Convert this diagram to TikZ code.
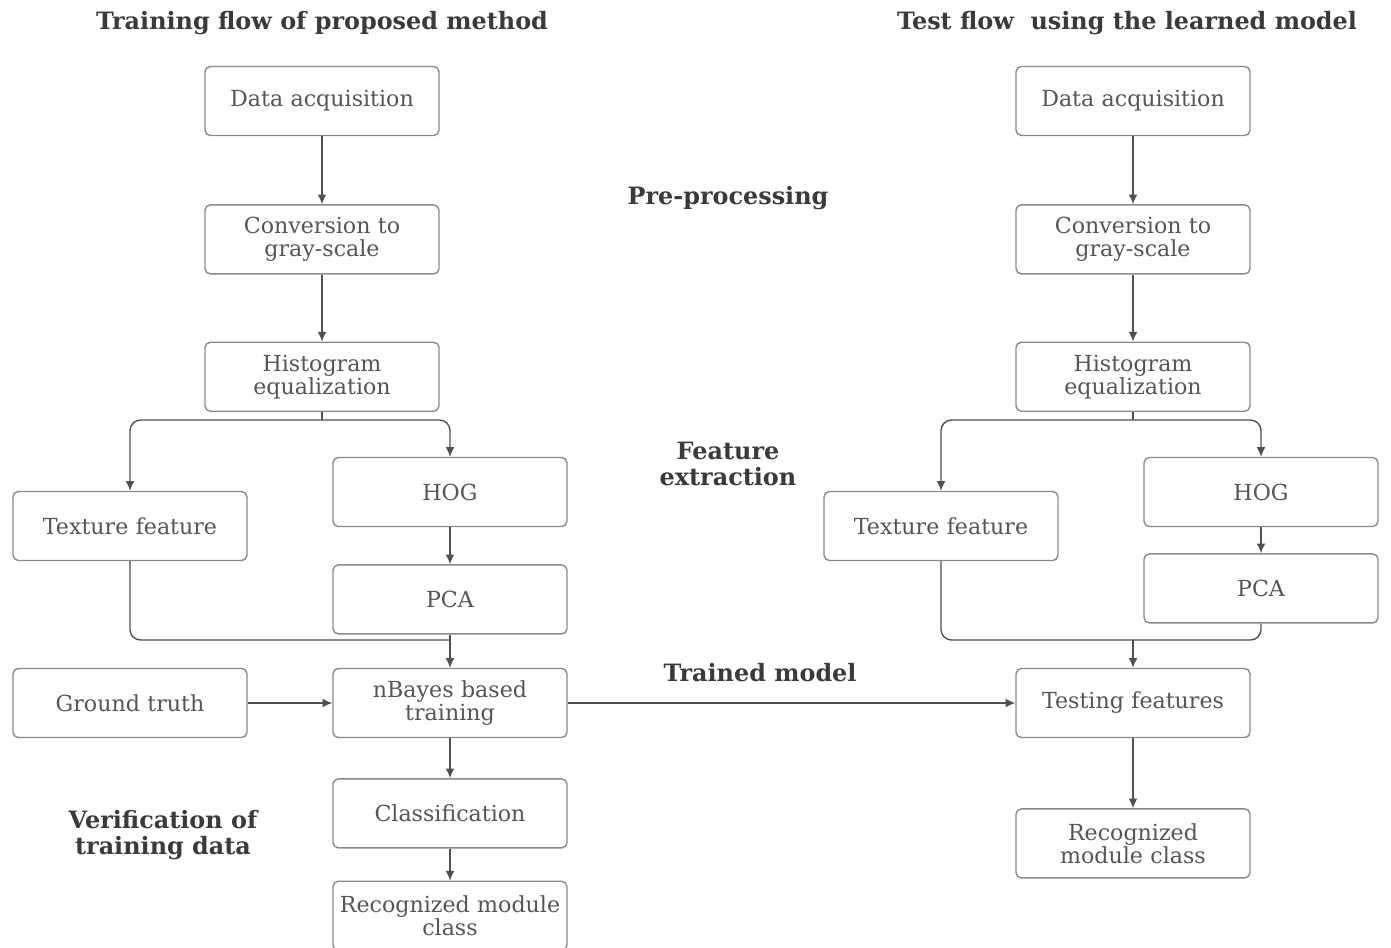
\documentclass[tikz,border=0pt]{standalone}
\usepackage{fontspec}
\setmainfont{DejaVu Serif}
\usetikzlibrary{arrows.meta, positioning}
\definecolor{boxline}{HTML}{8A8A8A}
\definecolor{conline}{HTML}{505050}
\definecolor{boxtext}{HTML}{555555}
\definecolor{headtext}{HTML}{3A3A3A}
\tikzstyle{stepbox} = [rectangle, rounded corners=3pt, minimum width=4.68cm, minimum height=1.38cm, inner xsep=1pt, text centered, text width=4.6cm, draw=boxline, line width=0.8pt, text=boxtext, font=\fontsize{12.6}{13.2}\selectfont, align=center]
\tikzstyle{arrow} = [conline, line width=0.8pt, -{Latex[length=5.5pt,width=5pt]}, rounded corners=6pt]
\tikzstyle{link} = [conline, line width=0.8pt, rounded corners=6pt]
\tikzstyle{heading} = [text=headtext, font=\bfseries\fontsize{13.6}{15}\selectfont, align=center]

\begin{document}
\begin{tikzpicture}[x=0.02cm, y=-0.02cm]
    \useasboundingbox (0,0) rectangle (1391,947);

    %Headings
    \node (trainHead) [heading] at (322,23) {Training flow of proposed method};
    \node (testHead) [heading] at (1127,23) {Test flow~ using the learned model};
    \node (preHead) [heading] at (728,198) {Pre-processing};
    \node (featHead) [heading] at (728,464) {Feature\\extraction};
    \node (modelHead) [heading] at (760,673) {Trained model};
    \node (verHead) [heading] at (163,835) {Verification of\\training data};

    %Training flow
    \node (dataL) [stepbox] at (322,101) {Data acquisition};
    \node (convL) [stepbox, below=1.36cm of dataL] {Conversion to\\gray-scale};
    \node (histL) [stepbox, below=1.34cm of convL] {Histogram\\equalization};
    \node (texL) [stepbox] at (130,526) {Texture feature};
    \node (hogL) [stepbox] at (450,492) {HOG};
    \node (pcaL) [stepbox, below=0.74cm of hogL] {PCA};
    \node (nbL) [stepbox] at (450,703) {nBayes based\\training};
    \node (gtL) [stepbox] at (130,703) {Ground truth};
    \node (classL) [stepbox, below=0.8cm of nbL] {Classification};
    \node (recL) [stepbox, below=0.64cm of classL] {Recognized module\\class};

    %Test flow
    \node (dataR) [stepbox] at (1133,101) {Data acquisition};
    \node (convR) [stepbox, below=1.36cm of dataR] {Conversion to\\gray-scale};
    \node (histR) [stepbox, below=1.34cm of convR] {Histogram\\equalization};
    \node (texR) [stepbox] at (941,526) {Texture feature};
    \node (hogR) [stepbox] at (1261,492) {HOG};
    \node (pcaR) [stepbox, below=0.52cm of hogR] {PCA};
    \node (testR) [stepbox] at (1133,703) {Testing features};
    \node (recR) [stepbox, below=1.4cm of testR] {Recognized\\module class};

    %Branch points
    \coordinate (splitL) at (322,420);
    \coordinate (joinL) at (450,640);
    \coordinate (splitR) at (1133,420);
    \coordinate (joinR) at (1133,640);

    %Arrows
    \draw [arrow] (dataL) -- (convL);
    \draw [arrow] (convL) -- (histL);
    \draw [link] (histL) -- (splitL);
    \draw [arrow] (splitL) -| (texL);
    \draw [arrow] (splitL) -| (hogL);
    \draw [arrow] (hogL) -- (pcaL);
    \draw [arrow] (pcaL) -- (nbL);
    \draw [link] (texL) |- (joinL);
    \draw [arrow] (gtL) -- (nbL);
    \draw [arrow] (nbL) -- (classL);
    \draw [arrow] (classL) -- (recL);
    \draw [arrow] (nbL) -- (testR);

    \draw [arrow] (dataR) -- (convR);
    \draw [arrow] (convR) -- (histR);
    \draw [link] (histR) -- (splitR);
    \draw [arrow] (splitR) -| (texR);
    \draw [arrow] (splitR) -| (hogR);
    \draw [arrow] (hogR) -- (pcaR);
    \draw [link] (texR) |- (joinR);
    \draw [link] (pcaR) |- (joinR);
    \draw [arrow] (joinR) -- (testR);
    \draw [arrow] (testR) -- (recR);

\end{tikzpicture}
\end{document}
